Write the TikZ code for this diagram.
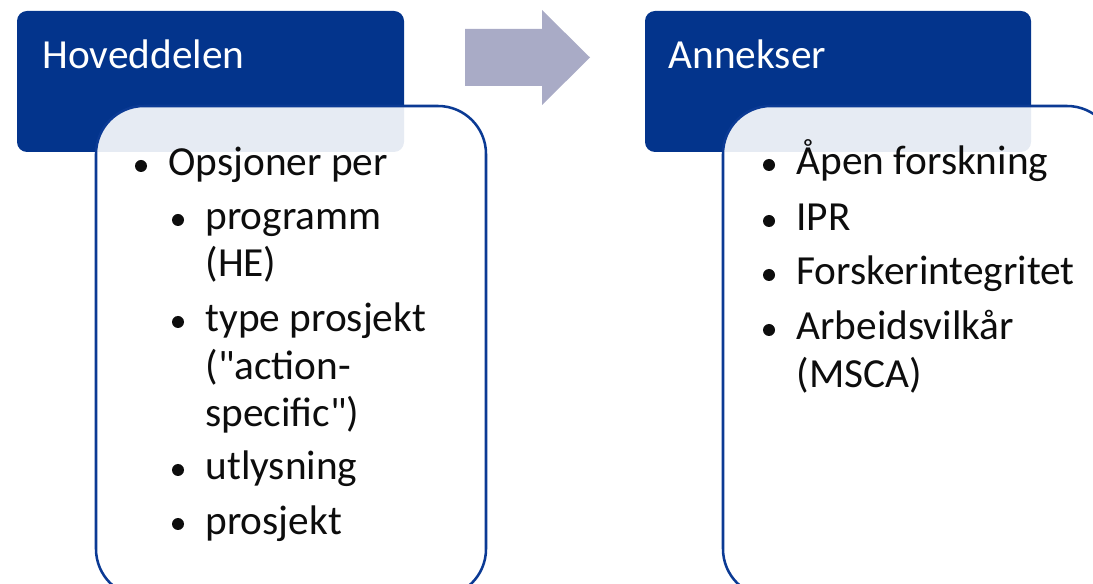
\documentclass[tikz,border=0pt]{standalone}
\usepackage{fontspec}
\setmainfont{Carlito}[Ligatures=TeXOff]

\definecolor{hdrblue}{HTML}{03348C}
\definecolor{lineblue}{HTML}{0B3A94}
\definecolor{arrowgray}{HTML}{A9ABC6}

\tikzset{every picture/.style={line width=0.75pt}}
\tikzset{
  hdrbox/.style={fill=hdrblue, rounded corners=7.5pt},
  bodybox/.style={draw=lineblue, line width=1.9pt, fill=white, fill opacity=0.9, rounded corners=36pt},
  hdrtext/.style={text=white, inner sep=0pt, anchor=base west, font=\fontsize{31}{37}\selectfont},
  itemtext/.style={text=black!95, inner sep=0pt, anchor=base west, font=\fontsize{31}{37}\selectfont},
  dot/.style={circle, fill=black!95, inner sep=0pt, minimum size=9pt},
}

\begin{document}
\begin{tikzpicture}[x=0.75pt,y=0.75pt,yscale=-1,xscale=1]

\useasboundingbox (0,0) rectangle (1093,584);
\clip (0,0) rectangle (1093,584);

% left block
\fill  [hdrbox]  (17,11) rectangle (404,152) ;
\draw (42,69) node [hdrtext] (hovedtitle) {Hoveddelen};
\draw  [bodybox]  (96,106) rectangle (486,597) ;

% arrow
\fill  [arrowgray]  (465,29) -- (542,29) -- (542,10) -- (590,57.5) -- (542,105) -- (542,86) -- (465,86) -- cycle ;

% right block
\fill  [hdrbox]  (645,11) rectangle (1031,152) ;
\draw (668,69) node [hdrtext] (annekstitle) {Annekser};
\draw  [bodybox]  (723,106) rectangle (1115,597) ;

% left items
\draw (141,166) node [dot] (dopsj) {};
\draw (168,176) node [itemtext] (opsj) {Opsjoner per};
\draw (178,220) node [dot] (dprog) {};
\draw (205,230) node [itemtext] (prog) {programm};
\draw (205,277) node [itemtext] (progb) {(HE)};
\draw (178,322) node [dot] (dtype) {};
\draw (205,332) node [itemtext] (type) {type prosjekt};
\draw (205,380) node [itemtext] (typeb) {("action-};
\draw (205,427) node [itemtext] (typec) {specific")};
\draw (178,470) node [dot] (dutly) {};
\draw (205,480) node [itemtext] (utly) {utlysning};
\draw (178,524) node [dot] (dpros) {};
\draw (205,534) node [itemtext] (pros) {prosjekt};

% right items
\draw (769,165) node [dot] (dapen) {};
\draw (796,175) node [itemtext] (apen) {Åpen forskning};
\draw (769,221) node [dot] (dipr) {};
\draw (796,231) node [itemtext] (ipr) {IPR};
\draw (769,275) node [dot] (dfors) {};
\draw (796,285) node [itemtext] (fors) {Forskerintegritet};
\draw (769,330) node [dot] (darb) {};
\draw (796,340) node [itemtext] (arb) {Arbeidsvilkår};
\draw (796,388) node [itemtext] (arbb) {(MSCA)};

\end{tikzpicture}
\end{document}
